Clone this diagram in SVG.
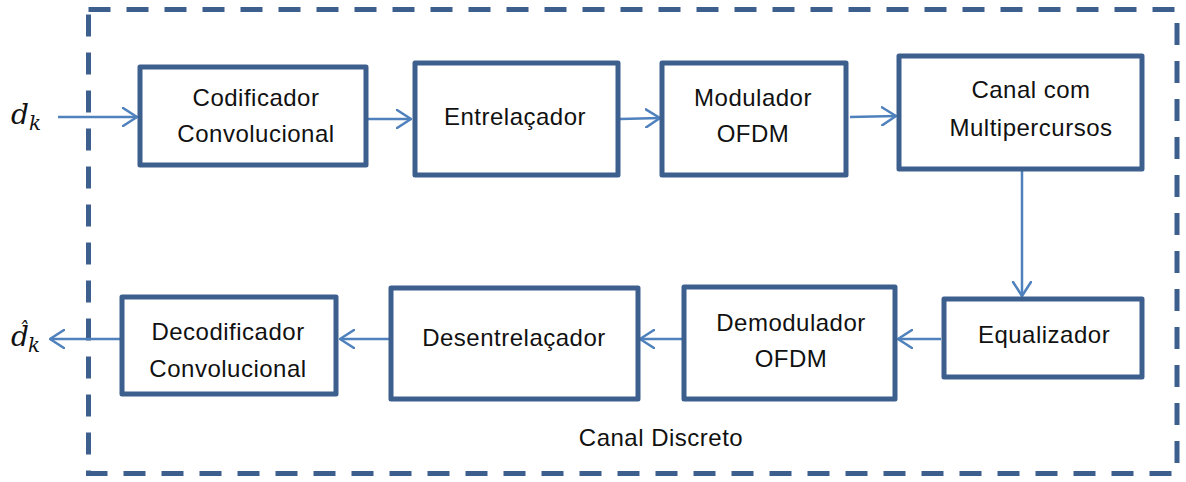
<svg xmlns="http://www.w3.org/2000/svg" width="1186" height="482" viewBox="0 0 1186 482">
  <style>
    .box { fill: #ffffff; stroke: #3C5F8E; stroke-width: 5; stroke-linejoin: round; }
    .lbl { font-family: "Liberation Sans", Arial, sans-serif; font-size: 24px; fill: #111111; text-anchor: middle; letter-spacing: 0.5px; }
    .math { font-family: "DejaVu Serif", "Liberation Serif", serif; font-style: italic; fill: #111111; }
    .conn { fill: none; stroke: #4F81BD; stroke-width: 2.5; }
    .frame { fill: none; stroke: #3C5F8E; stroke-width: 5; stroke-dasharray: 22 16; }
  </style>
  <defs>
    <marker id="arr" viewBox="0 0 16 20" refX="15" refY="10" markerWidth="16" markerHeight="20" markerUnits="userSpaceOnUse" orient="auto">
      <path d="M1,1 L15,10 L1,19" fill="none" stroke="#4F81BD" stroke-width="2.5" stroke-linecap="round" stroke-linejoin="round"/>
    </marker>
  </defs>
  <rect width="1186" height="482" fill="#ffffff"/>

  <g id="frame">
    <rect class="frame" x="88.5" y="9.5" width="1088.5" height="464"/>
    <text class="lbl" x="661" y="446">Canal Discreto</text>
  </g>

  <g id="connectors">
    <line class="conn" x1="58" y1="117" x2="137" y2="117" marker-end="url(#arr)"/>
    <line class="conn" x1="368" y1="119" x2="411" y2="119" marker-end="url(#arr)"/>
    <line class="conn" x1="620" y1="119" x2="660" y2="118" marker-end="url(#arr)"/>
    <line class="conn" x1="850" y1="117" x2="896" y2="116" marker-end="url(#arr)"/>
    <line class="conn" x1="1022" y1="171" x2="1022" y2="296" marker-end="url(#arr)"/>
    <line class="conn" x1="941" y1="339" x2="898" y2="339" marker-end="url(#arr)"/>
    <line class="conn" x1="682" y1="339" x2="640" y2="339" marker-end="url(#arr)"/>
    <line class="conn" x1="389" y1="339" x2="340" y2="339" marker-end="url(#arr)"/>
    <line class="conn" x1="120" y1="339" x2="50" y2="339" marker-end="url(#arr)"/>
  </g>

  <g id="input">
    <text class="math" x="11" y="124" font-size="28">d<tspan font-size="20" dy="6">k</tspan></text>
  </g>
  <g id="output">
    <text class="math" x="11" y="346" font-size="28">d<tspan x="18" y="337" font-size="20">ˆ</tspan><tspan x="28" y="352" font-size="20">k</tspan></text>
  </g>

  <g id="codificador">
    <rect class="box" x="140" y="67" width="226" height="98"/>
    <text class="lbl" x="256" y="106">Codificador</text>
    <text class="lbl" x="256" y="142">Convolucional</text>
  </g>
  <g id="entrelacador">
    <rect class="box" x="415" y="63" width="203" height="112"/>
    <text class="lbl" x="515" y="125">Entrelaçador</text>
  </g>
  <g id="modulador">
    <rect class="box" x="662" y="63" width="184" height="112"/>
    <text class="lbl" x="753" y="106">Modulador</text>
    <text class="lbl" x="753" y="142">OFDM</text>
  </g>
  <g id="canal">
    <rect class="box" x="899" y="56" width="243" height="113"/>
    <text class="lbl" x="1031" y="98">Canal com</text>
    <text class="lbl" x="1031" y="136">Multipercursos</text>
  </g>
  <g id="equalizador">
    <rect class="box" x="944" y="299" width="198" height="78"/>
    <text class="lbl" x="1044" y="343">Equalizador</text>
  </g>
  <g id="demodulador">
    <rect class="box" x="684" y="287" width="211" height="112"/>
    <text class="lbl" x="791" y="331">Demodulador</text>
    <text class="lbl" x="791" y="367">OFDM</text>
  </g>
  <g id="desentrelacador">
    <rect class="box" x="391" y="288" width="247" height="111"/>
    <text class="lbl" x="514" y="346">Desentrelaçador</text>
  </g>
  <g id="decodificador">
    <rect class="box" x="122" y="297" width="214" height="97"/>
    <text class="lbl" x="228" y="340">Decodificador</text>
    <text class="lbl" x="228" y="377">Convolucional</text>
  </g>
</svg>
